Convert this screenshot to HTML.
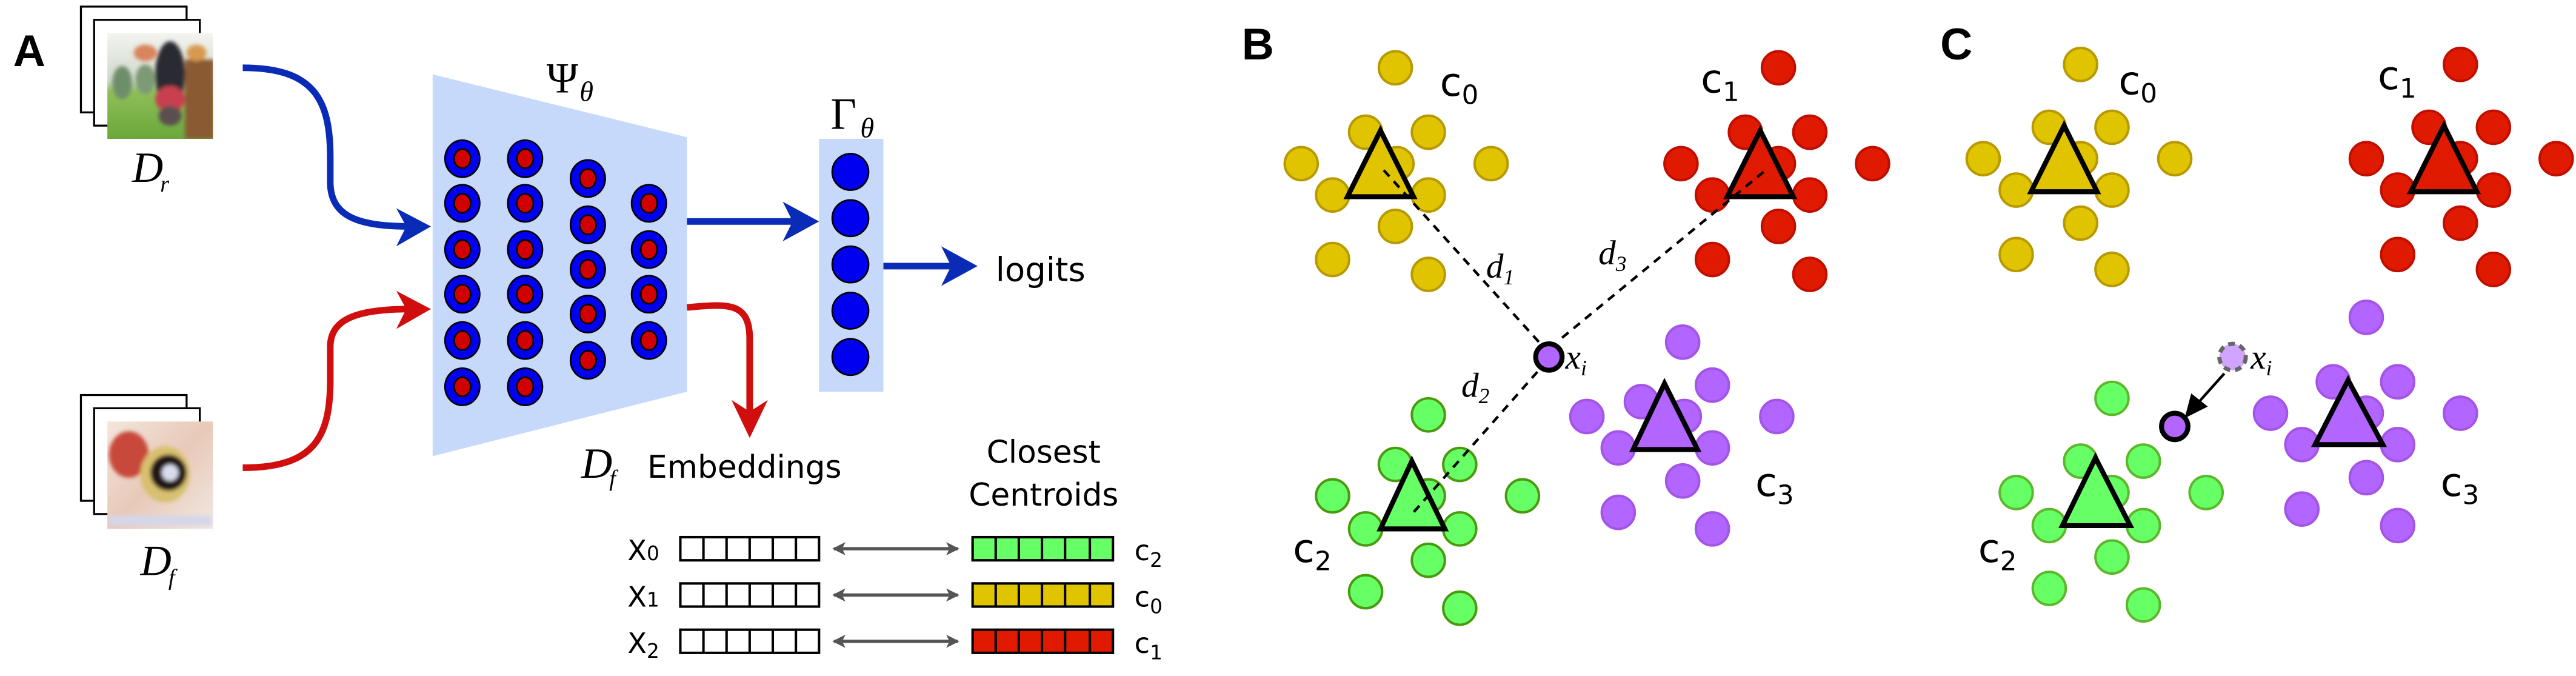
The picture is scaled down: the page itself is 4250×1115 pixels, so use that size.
<!DOCTYPE html>
<html><head><meta charset="utf-8"><style>
html,body{margin:0;padding:0;background:#fff;}
svg{display:block;font-family:"DejaVu Sans","Liberation Sans",sans-serif;}
.m{font-family:"Liberation Serif",serif;font-style:italic;}
.s{font-family:"Liberation Serif",serif;}
.b{font-family:"Liberation Sans",sans-serif;font-weight:bold;}
</style></head><body>
<svg width="4250" height="1115" viewBox="0 0 1560 409" preserveAspectRatio="none" xmlns="http://www.w3.org/2000/svg">
<defs>
<linearGradient id="cowsky" x1="0" y1="0" x2="0" y2="1">
<stop offset="0" stop-color="#f4f4f0"/><stop offset="0.45" stop-color="#cfd8cc"/><stop offset="0.55" stop-color="#8fbf5a"/><stop offset="1" stop-color="#6aa83a"/></linearGradient>
<linearGradient id="phone" x1="0" y1="0" x2="1" y2="1">
<stop offset="0" stop-color="#f3e6dc"/><stop offset="0.5" stop-color="#e8c9b8"/><stop offset="1" stop-color="#f0e8e2"/></linearGradient>
<filter id="bl"><feGaussianBlur stdDeviation="1.2"/></filter>
<marker id="ag" markerWidth="8" markerHeight="8" refX="7" refY="4" orient="auto-start-reverse" markerUnits="userSpaceOnUse"><path d="M0,0 L8,4 L0,8 L2,4 Z" fill="#555"/></marker>
</defs>

<text x="8" y="40" font-size="27" class="b">A</text>
<text x="752" y="36" font-size="27" class="b">B</text>
<text x="1175" y="36" font-size="27" class="b">C</text>

<!-- Dr stack -->
<rect x="49" y="4" width="64" height="64" fill="#fff" stroke="#000" stroke-width="1.2"/>
<rect x="57" y="12" width="64" height="64" fill="#fff" stroke="#000" stroke-width="1.2"/>
<clipPath id="c1"><rect x="65" y="20" width="64" height="64"/></clipPath>
<g clip-path="url(#c1)">
<rect x="65" y="20" width="64" height="64" fill="url(#cowsky)"/>
<g filter="url(#bl)">
<ellipse cx="74" cy="50" rx="6" ry="10" fill="#6e8e6a"/>
<ellipse cx="88" cy="48" rx="6" ry="9" fill="#7e9a74"/>
<rect x="112" y="36" width="18" height="48" fill="#8a5a30"/>
<ellipse cx="103" cy="45" rx="9" ry="20" fill="#2a2a30"/>
<ellipse cx="103" cy="60" rx="9" ry="8" fill="#c84050"/>
<ellipse cx="103" cy="70" rx="7" ry="6" fill="#5a5050"/>
<ellipse cx="88" cy="32" rx="7" ry="5" fill="#d8845c"/>
<ellipse cx="119" cy="32" rx="6" ry="5" fill="#d89a50"/>
</g></g>
<text x="80" y="110" font-size="26" class="m">D</text><text x="97" y="116" font-size="14" class="m">r</text>

<!-- Df stack -->
<rect x="49" y="239" width="64" height="64" fill="#fff" stroke="#000" stroke-width="1.2"/>
<rect x="57" y="247" width="64" height="64" fill="#fff" stroke="#000" stroke-width="1.2"/>
<clipPath id="c2"><rect x="65" y="255" width="64" height="65"/></clipPath>
<g clip-path="url(#c2)">
<rect x="65" y="255" width="64" height="65" fill="url(#phone)"/>
<g filter="url(#bl)">
<ellipse cx="78" cy="275" rx="12" ry="14" fill="#c84a3a"/>
<ellipse cx="100" cy="287" rx="15" ry="17" fill="#d8c070"/>
<circle cx="102" cy="286" r="11" fill="#201818"/>
<circle cx="103" cy="286" r="5" fill="#d8dcec"/>
<rect x="66" y="312" width="62" height="6" fill="#d6d6ea"/>
</g></g>
<text x="85" y="348" font-size="26" class="m">D</text><text x="102" y="354" font-size="14" class="m">f</text>

<path d="M147,41 C190,41 200,60 200,95 L200,110 C200,130 215,137 248,137" fill="none" stroke="#0a2bb5" stroke-width="4"/>
<path d="M240,126 L261,137 L240,149 L246,137 Z" fill="#0a2bb5"/>
<path d="M147,283 C190,283 200,265 200,230 L200,210 C200,195 212,187 248,187" fill="none" stroke="#d00e0e" stroke-width="4"/>
<path d="M240,176 L261,187 L240,199 L246,187 Z" fill="#d00e0e"/>

<polygon points="262,45 416,83 416,237 262,276" fill="#c7d9fb"/>
<text x="331" y="56" font-size="26" class="s">Ψ</text><text x="351" y="61" font-size="17" class="m">θ</text>
<g stroke="#000" stroke-width="1">
<g fill="#0000f0">
<ellipse cx="280" cy="96" rx="10.5" ry="11.2"/><ellipse cx="280" cy="123" rx="10.5" ry="11.2"/><ellipse cx="280" cy="151" rx="10.5" ry="11.2"/><ellipse cx="280" cy="178" rx="10.5" ry="11.2"/><ellipse cx="280" cy="206" rx="10.5" ry="11.2"/><ellipse cx="280" cy="234" rx="10.5" ry="11.2"/>
<ellipse cx="318" cy="96" rx="10.5" ry="11.2"/><ellipse cx="318" cy="123" rx="10.5" ry="11.2"/><ellipse cx="318" cy="151" rx="10.5" ry="11.2"/><ellipse cx="318" cy="178" rx="10.5" ry="11.2"/><ellipse cx="318" cy="206" rx="10.5" ry="11.2"/><ellipse cx="318" cy="234" rx="10.5" ry="11.2"/>
<ellipse cx="356" cy="108" rx="10.5" ry="11.2"/><ellipse cx="356" cy="136" rx="10.5" ry="11.2"/><ellipse cx="356" cy="163" rx="10.5" ry="11.2"/><ellipse cx="356" cy="190" rx="10.5" ry="11.2"/><ellipse cx="356" cy="218" rx="10.5" ry="11.2"/>
<ellipse cx="393" cy="123" rx="10.5" ry="11.2"/><ellipse cx="393" cy="151" rx="10.5" ry="11.2"/><ellipse cx="393" cy="178" rx="10.5" ry="11.2"/><ellipse cx="393" cy="206" rx="10.5" ry="11.2"/>
</g>
<g fill="#d00000">
<ellipse cx="280" cy="96" rx="5" ry="5.8"/><ellipse cx="280" cy="123" rx="5" ry="5.8"/><ellipse cx="280" cy="151" rx="5" ry="5.8"/><ellipse cx="280" cy="178" rx="5" ry="5.8"/><ellipse cx="280" cy="206" rx="5" ry="5.8"/><ellipse cx="280" cy="234" rx="5" ry="5.8"/>
<ellipse cx="318" cy="96" rx="5" ry="5.8"/><ellipse cx="318" cy="123" rx="5" ry="5.8"/><ellipse cx="318" cy="151" rx="5" ry="5.8"/><ellipse cx="318" cy="178" rx="5" ry="5.8"/><ellipse cx="318" cy="206" rx="5" ry="5.8"/><ellipse cx="318" cy="234" rx="5" ry="5.8"/>
<ellipse cx="356" cy="108" rx="5" ry="5.8"/><ellipse cx="356" cy="136" rx="5" ry="5.8"/><ellipse cx="356" cy="163" rx="5" ry="5.8"/><ellipse cx="356" cy="190" rx="5" ry="5.8"/><ellipse cx="356" cy="218" rx="5" ry="5.8"/>
<ellipse cx="393" cy="123" rx="5" ry="5.8"/><ellipse cx="393" cy="151" rx="5" ry="5.8"/><ellipse cx="393" cy="178" rx="5" ry="5.8"/><ellipse cx="393" cy="206" rx="5" ry="5.8"/>
</g></g>

<line x1="416" y1="134" x2="482" y2="134" stroke="#0a2bb5" stroke-width="4"/>
<path d="M474,122 L496,134 L474,146 L480,134 Z" fill="#0a2bb5"/>
<rect x="496" y="84" width="39" height="153" fill="#c7d9fb"/>
<text x="503" y="78" font-size="27" class="s">Γ</text><text x="521" y="83" font-size="17" class="m">θ</text>
<g fill="#0000f0" stroke="#000" stroke-width="1">
<ellipse cx="515" cy="104" rx="11" ry="11"/><ellipse cx="515" cy="132" rx="11" ry="11"/><ellipse cx="515" cy="160" rx="11" ry="11"/><ellipse cx="515" cy="188" rx="11" ry="11"/><ellipse cx="515" cy="216" rx="11" ry="11"/>
</g>
<line x1="535" y1="161" x2="580" y2="161" stroke="#0a2bb5" stroke-width="4"/>
<path d="M570,149 L592,161 L570,173 L576,161 Z" fill="#0a2bb5"/>
<text x="603" y="170" font-size="20">logits</text>

<path d="M416,186 C440,184 454,182 454,205 L454,252" fill="none" stroke="#d00e0e" stroke-width="4"/>
<path d="M443,242 L454,265 L465,242 L454,249 Z" fill="#d00e0e"/>
<text x="352" y="289" font-size="26" class="m">D</text><text x="369" y="294" font-size="14" class="m">f</text>
<text x="392" y="289" font-size="19">Embeddings</text>
<text x="632" y="280" font-size="19" text-anchor="middle">Closest</text>
<text x="632" y="306" font-size="19" text-anchor="middle">Centroids</text>

<g font-size="17">
<text x="380" y="339">X<tspan font-size="12">0</tspan></text>
<text x="380" y="367">X<tspan font-size="12">1</tspan></text>
<text x="380" y="395">X<tspan font-size="12" dy="3">2</tspan></text>
<text x="687" y="339">c<tspan font-size="12" dy="4">2</tspan></text>
<text x="687" y="367">c<tspan font-size="12" dy="4">0</tspan></text>
<text x="687" y="395">c<tspan font-size="12" dy="4">1</tspan></text>
</g>
<g stroke="#000" stroke-width="1.5">
<g fill="#fff">
<rect x="412" y="325" width="84" height="14"/><rect x="412" y="353" width="84" height="14"/><rect x="412" y="381" width="84" height="14"/>
</g>
<rect x="589" y="325" width="85" height="14" fill="#66ff66"/>
<rect x="589" y="353" width="85" height="14" fill="#e0c400"/>
<rect x="589" y="381" width="85" height="14" fill="#e01a00"/>
<path d="M426,325v14M440,325v14M454,325v14M468,325v14M482,325v14 M426,353v14M440,353v14M454,353v14M468,353v14M482,353v14 M426,381v14M440,381v14M454,381v14M468,381v14M482,381v14" fill="none"/>
<path d="M603,325v14M617,325v14M631,325v14M645,325v14M660,325v14 M603,353v14M617,353v14M631,353v14M645,353v14M660,353v14 M603,381v14M617,381v14M631,381v14M645,381v14M660,381v14" fill="none"/>
</g>
<g stroke="#555" stroke-width="2" marker-start="url(#ag)" marker-end="url(#ag)">
<line x1="505" y1="332" x2="580" y2="332"/><line x1="505" y1="360" x2="580" y2="360"/><line x1="505" y1="388" x2="580" y2="388"/>
</g>

<!-- Panel B -->
<g stroke-width="1.5">
<g fill="#e0c400" stroke="#b89a00">
<circle cx="845" cy="41" r="10"/><circle cx="827" cy="80" r="10"/><circle cx="865" cy="80" r="10"/><circle cx="788" cy="99" r="10"/><circle cx="903" cy="99" r="10"/><circle cx="846" cy="99" r="10"/><circle cx="807" cy="118" r="10"/><circle cx="865" cy="118" r="10"/><circle cx="845" cy="137" r="10"/><circle cx="807" cy="157" r="10"/><circle cx="865" cy="166" r="10"/>
</g>
<g fill="#e01a00" stroke="#c00f00">
<circle cx="1077" cy="41" r="10"/><circle cx="1057" cy="80" r="10"/><circle cx="1096" cy="80" r="10"/><circle cx="1018" cy="99" r="10"/><circle cx="1134" cy="99" r="10"/><circle cx="1077" cy="99" r="10"/><circle cx="1037" cy="118" r="10"/><circle cx="1096" cy="118" r="10"/><circle cx="1077" cy="137" r="10"/><circle cx="1037" cy="157" r="10"/><circle cx="1096" cy="166" r="10"/>
</g>
<g fill="#b266ff" stroke="#a455e8">
<circle cx="1019" cy="207" r="10"/><circle cx="1037" cy="233" r="10"/><circle cx="994" cy="243" r="10"/><circle cx="1020" cy="252" r="10"/><circle cx="961" cy="252" r="10"/><circle cx="1076" cy="252" r="10"/><circle cx="980" cy="271" r="10"/><circle cx="1037" cy="271" r="10"/><circle cx="1019" cy="291" r="10"/><circle cx="980" cy="310" r="10"/><circle cx="1037" cy="320" r="10"/>
</g>
<g fill="#66ff66" stroke="#4a9a10">
<circle cx="865" cy="251" r="10"/><circle cx="845" cy="281" r="10"/><circle cx="884" cy="281" r="10"/><circle cx="807" cy="300" r="10"/><circle cx="922" cy="300" r="10"/><circle cx="865" cy="300" r="10"/><circle cx="827" cy="320" r="10"/><circle cx="884" cy="320" r="10"/><circle cx="865" cy="339" r="10"/><circle cx="827" cy="358" r="10"/><circle cx="884" cy="368" r="10"/>
</g>
</g>
<g stroke="#000" stroke-width="3">
<polygon points="836,79 856,119 816,119" fill="#e0c400"/>
<polygon points="1066,79 1086,119 1046,119" fill="#e01a00"/>
<polygon points="1008,232 1028,272 989,272" fill="#b266ff"/>
<polygon points="855,279 875,320 836,320" fill="#66ff66"/>
</g>
<g stroke="#000" stroke-width="1.6" stroke-dasharray="5,4" fill="none">
<line x1="838" y1="103" x2="932" y2="207"/>
<line x1="1068" y1="104" x2="944" y2="206"/>
<line x1="931" y1="225" x2="856" y2="310"/>
</g>
<circle cx="938" cy="216" r="8" fill="#b266ff" stroke="#000" stroke-width="3"/>
<text x="948" y="223" class="m" font-size="21">x<tspan font-size="13" dy="4">i</tspan></text>
<text x="900" y="168" class="m" font-size="21">d<tspan font-size="13" dy="4">1</tspan></text>
<text x="968" y="160" class="m" font-size="21">d<tspan font-size="13" dy="4">3</tspan></text>
<text x="885" y="240" class="m" font-size="21">d<tspan font-size="13" dy="4">2</tspan></text>
<g font-size="24">
<text x="872" y="58">c<tspan font-size="16" dy="5">0</tspan></text>
<text x="1030" y="56">c<tspan font-size="16" dy="5">1</tspan></text>
<text x="783" y="340">c<tspan font-size="16" dy="5">2</tspan></text>
<text x="1063" y="300">c<tspan font-size="16" dy="5">3</tspan></text>
</g>

<!-- Panel C -->
<g stroke-width="1.5">
<g fill="#e0c400" stroke="#b89a00">
<circle cx="1260" cy="39" r="10"/><circle cx="1241" cy="77" r="10"/><circle cx="1279" cy="77" r="10"/><circle cx="1201" cy="96" r="10"/><circle cx="1317" cy="96" r="10"/><circle cx="1260" cy="96" r="10"/><circle cx="1221" cy="115" r="10"/><circle cx="1279" cy="115" r="10"/><circle cx="1260" cy="135" r="10"/><circle cx="1221" cy="154" r="10"/><circle cx="1279" cy="163" r="10"/>
</g>
<g fill="#e01a00" stroke="#c00f00">
<circle cx="1490" cy="39" r="10"/><circle cx="1471" cy="77" r="10"/><circle cx="1510" cy="77" r="10"/><circle cx="1433" cy="96" r="10"/><circle cx="1548" cy="96" r="10"/><circle cx="1490" cy="96" r="10"/><circle cx="1452" cy="115" r="10"/><circle cx="1510" cy="115" r="10"/><circle cx="1490" cy="135" r="10"/><circle cx="1452" cy="154" r="10"/><circle cx="1510" cy="163" r="10"/>
</g>
<g fill="#b266ff" stroke="#a455e8">
<circle cx="1433" cy="192" r="10"/><circle cx="1413" cy="231" r="10"/><circle cx="1452" cy="231" r="10"/><circle cx="1375" cy="250" r="10"/><circle cx="1490" cy="250" r="10"/><circle cx="1433" cy="250" r="10"/><circle cx="1394" cy="269" r="10"/><circle cx="1452" cy="269" r="10"/><circle cx="1433" cy="289" r="10"/><circle cx="1394" cy="308" r="10"/><circle cx="1452" cy="318" r="10"/>
</g>
<g fill="#66ff66" stroke="#5cb82a">
<circle cx="1279" cy="241" r="10"/><circle cx="1260" cy="279" r="10"/><circle cx="1298" cy="279" r="10"/><circle cx="1221" cy="298" r="10"/><circle cx="1336" cy="298" r="10"/><circle cx="1279" cy="298" r="10"/><circle cx="1241" cy="318" r="10"/><circle cx="1298" cy="318" r="10"/><circle cx="1279" cy="337" r="10"/><circle cx="1241" cy="356" r="10"/><circle cx="1298" cy="366" r="10"/>
</g>
</g>
<g stroke="#000" stroke-width="3">
<polygon points="1250,76 1270,116 1230,116" fill="#e0c400"/>
<polygon points="1480,76 1500,116 1460,116" fill="#e01a00"/>
<polygon points="1422,230 1443,269 1402,269" fill="#b266ff"/>
<polygon points="1269,277 1290,318 1249,318" fill="#66ff66"/>
</g>
<circle cx="1352" cy="216" r="8" fill="#d0a4ff" stroke="#666" stroke-width="2.5" stroke-dasharray="4,3"/>
<line x1="1347" y1="226" x2="1330" y2="245" stroke="#000" stroke-width="1.6"/>
<path d="M1323,253 L1327,238 L1337,246 Z" fill="#000"/>
<circle cx="1317" cy="258" r="8" fill="#b266ff" stroke="#000" stroke-width="3"/>
<text x="1363" y="223" class="m" font-size="21">x<tspan font-size="13" dy="4">i</tspan></text>
<g font-size="24">
<text x="1283" y="57">c<tspan font-size="16" dy="5">0</tspan></text>
<text x="1440" y="54">c<tspan font-size="16" dy="5">1</tspan></text>
<text x="1198" y="340">c<tspan font-size="16" dy="5">2</tspan></text>
<text x="1478" y="300">c<tspan font-size="16" dy="5">3</tspan></text>
</g>
</svg>
</body></html>
